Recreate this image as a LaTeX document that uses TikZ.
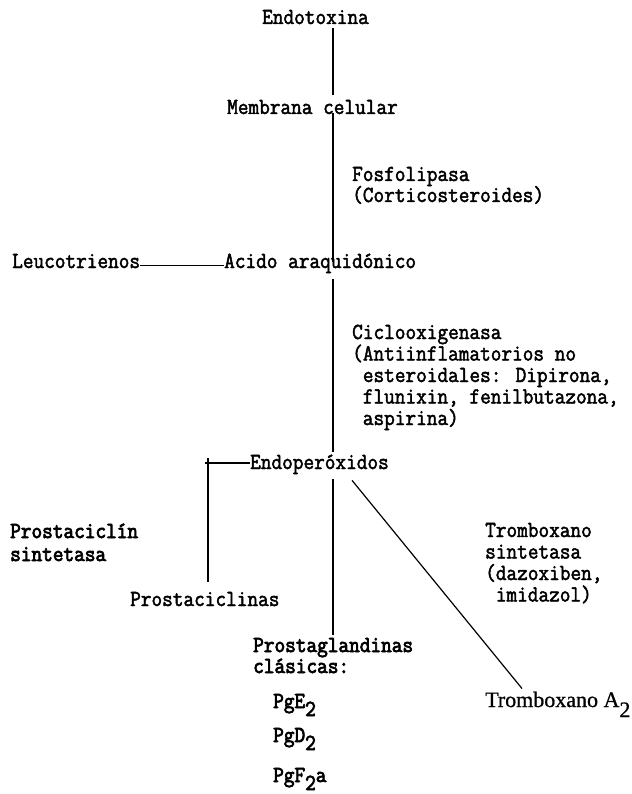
\documentclass[tikz,border=0pt]{standalone}
\usepackage{fontspec}
\usetikzlibrary{calc}
\newfontfamily\tw{Latin Modern Mono}[FakeStretch=0.9,FakeBold=2]
\newfontfamily\twb{Latin Modern Mono}[FakeStretch=0.9,FakeBold=3.2]
\newfontfamily\tms{Liberation Serif}[FakeBold=0.8]
\newcommand\blk[2][21.5pt]{\vtop{\baselineskip=#1\lineskiplimit=-\maxdimen\lineskip=0pt\halign{##\hfil\cr#2\crcr}}}
\newcommand\sbs[1]{\raisebox{-8pt}{#1}}
\tikzset{
  lbl/.style={inner sep=0pt, anchor=base west, text=black, font=\tw\fontsize{23}{23}\selectfont},
  lblb/.style={lbl, font=\twb\fontsize{23}{23}\selectfont},
  lbls/.style={inner sep=0pt, anchor=base west, text=black, font=\tms\fontsize{22}{22}\selectfont},
  conn/.style={line width=1.2pt, draw=black},
}
\begin{document}
\begin{tikzpicture}[x=1pt,y=-1pt]
\useasboundingbox[fill=white] (0,0) rectangle (631,794);
\coordinate (ax) at (333,0);
% texts
\node[lbl] (endo) at (262,24) {Endotoxina};
\node[lbl] (memb) at (227,114) {Membrana celular};
\node[lbl] (fos) at (352,181) {\blk[21pt]{Fosfolipasa\cr(Corticosteroides)}};
\node[lbl] (leuc) at (12,268) {Leucotrienos};
\node[lbl] (acido) at (224,268) {Acido araquidónico};
\node[lbl] (ciclo) at (352,339) {\blk{Ciclooxigenasa\cr(Antiinflamatorios no\cr\phantom{(}esteroidales: Dipirona,\cr\phantom{(}flunixin, fenilbutazona,\cr\phantom{(}aspirina)}};
\node[lbl] (endop) at (250,469) {Endoperóxidos};
\node[lblb] (pcs) at (10,538) {\blk[23pt]{Prostaciclín\cr sintetasa}};
\node[lbl] (pcl) at (130,606) {Prostaciclinas};
\node[lbl] (txs) at (485,537) {\blk{Tromboxano\cr sintetasa\cr(dazoxiben,\cr\phantom{(}imidazol)}};
\node[lblb] (pgc) at (253,652) {\blk[21pt]{Prostaglandinas\cr clásicas:}};
\node[lblb] (pge) at (273,708) {PgE\sbs{2}};
\node[lblb] (pgd) at (273,742) {PgD\sbs{2}};
\node[lblb] (pgf) at (273,782) {PgF\sbs{2}a};
\node[lbls] (txa) at (485,707) {Tromboxano A\raisebox{-10pt}{2}};
% connectors
\draw[conn] ($(endo.south -| ax)+(0,4)$) -- ($(memb.north -| ax)+(0,-5)$);
\draw[conn] ($(memb.south -| ax)+(0,-1)$) -- ($(acido.base -| ax)+(0,-6)$);
\draw[conn] ($(acido.south -| ax)+(0,6)$) -- ($(endop.north -| ax)+(0,-2)$);
\draw[conn] ($(endop.south -| ax)+(0,5)$) -- ($(pgc.north -| ax)+(0,-3)$);
\draw[conn] (leuc.mid east) -- (acido.mid west);
\coordinate (corner) at (208,463);
\draw[conn] ($(corner)+(-3,0)$) -- (corner -| endop.west);
\draw[conn] ($(corner)+(0,-5)$) -- ($(corner |- pcl.north)+(0,-10)$);
\draw[conn] ($(endop.south east)+(-37,6)$) -- ($(txa.north west)+(37,-3)$);
\end{tikzpicture}
\end{document}
